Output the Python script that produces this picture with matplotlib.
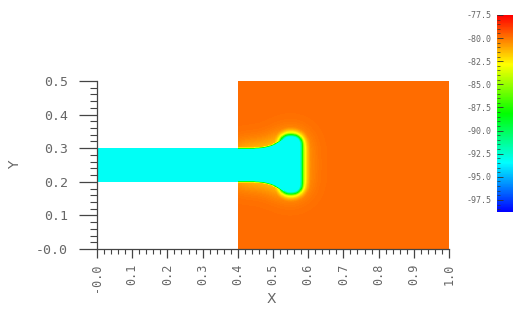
import numpy as np
import matplotlib
matplotlib.use("Agg")
import matplotlib.pyplot as plt
from matplotlib.colors import LinearSegmentedColormap
from matplotlib.ticker import FixedLocator, FixedFormatter, MultipleLocator

plt.rcParams['axes.unicode_minus'] = False

# values
tissue_value = -79.8      # orange background
channel_value = -93.3     # cyan inside the channel / head
vmin, vmax = -98.8, -77.5

# geometry (data units)
channel_x = [0.0, 0.4]
channel_y = [0.2, 0.3]
tissue_x = [0.4, 1.0]
tissue_y = [0.0, 0.5]
stem_x = [0.4, 0.535]
cap_x = [0.518, 0.584]
cap_y = [0.163, 0.341]
cap_radius = 0.028

x_ticks = [0.0, 0.1, 0.2, 0.3, 0.4, 0.5, 0.6, 0.7, 0.8, 0.9, 1.0]
x_labels = ['-0.0', '0.1', '0.2', '0.3', '0.4', '0.5', '0.6', '0.7', '0.8', '0.9', '1.0']
y_ticks = [0.0, 0.1, 0.2, 0.3, 0.4, 0.5]
y_labels = ['-0.0', '0.1', '0.2', '0.3', '0.4', '0.5']
cb_ticks = [-97.5, -95.0, -92.5, -90.0, -87.5, -85.0, -82.5, -80.0, -77.5]

# field on a fine grid
nx, ny = 1000, 500
xs = np.linspace(0, 1, nx)
ys = np.linspace(0, 0.5, ny)
X, Y = np.meshgrid(xs, ys)
dx = xs[1] - xs[0]


def blur(a, sigma):
    n = int(4 * sigma / dx) + 1
    k = np.exp(-0.5 * (np.arange(-n, n + 1) * dx / sigma) ** 2)
    k /= k.sum()
    out = np.apply_along_axis(lambda r: np.convolve(r, k, mode='same'), 1, a)
    out = np.apply_along_axis(lambda c: np.convolve(c, k, mode='same'), 0, out)
    return out


# stem, flaring towards the cap
t = np.clip((X - stem_x[0]) / (stem_x[1] - stem_x[0]), 0, 1)
half = 0.05 + 0.035 * t ** 4
stem = ((X >= stem_x[0] - 0.01) & (X <= stem_x[1]) & (np.abs(Y - 0.25) <= half)).astype(float)

# rounded cap
cx = np.clip(X, cap_x[0] + cap_radius, cap_x[1] - cap_radius)
cy = np.clip(Y, cap_y[0] + cap_radius, cap_y[1] - cap_radius)
cap = (np.hypot(X - cx, Y - cy) <= cap_radius).astype(float)

union = np.maximum(stem, cap)
a_stem = blur(stem, 0.0025)
a_cap = blur(cap, 0.0065)
a_rim = 0.75 * blur(cap, 0.014)
a_halo = 0.2 * blur(union, 0.03)
a = np.maximum.reduce([a_stem, a_cap, a_rim, a_halo])
a = np.clip(a * 1.15, 0, 1)

field = tissue_value + (channel_value - tissue_value) * a
in_channel = (X <= channel_x[1]) & (Y >= channel_y[0]) & (Y <= channel_y[1])
field[in_channel & (X < tissue_x[0])] = channel_value
field[(X < tissue_x[0]) & ~in_channel] = np.nan

cmap = LinearSegmentedColormap.from_list(
    'hot_visit', ['#0000ff', '#00ffff', '#00ff00', '#ffff00', '#ff0000'])
cmap.set_bad((1, 1, 1, 0))

fig = plt.figure(figsize=(5.13, 3.23), dpi=100)
ax = fig.add_axes([97 / 513, 74 / 323, 352 / 513, 168 / 323])
im = ax.imshow(np.ma.masked_invalid(field), origin='lower', extent=[0, 1, 0, 0.5],
               cmap=cmap, vmin=vmin, vmax=vmax, interpolation='nearest', aspect='auto')
ax.set_xlim(0, 1)
ax.set_ylim(0, 0.5)

for s in ['top', 'right']:
    ax.spines[s].set_visible(False)
for s in ['left', 'bottom']:
    ax.spines[s].set_color('#444444')
    ax.spines[s].set_linewidth(0.9)

gray = '#666666'
ax.xaxis.set_major_locator(FixedLocator(x_ticks))
ax.xaxis.set_major_formatter(FixedFormatter(x_labels))
ax.yaxis.set_major_locator(FixedLocator(y_ticks))
ax.yaxis.set_major_formatter(FixedFormatter(y_labels))
ax.xaxis.set_minor_locator(MultipleLocator(0.02))
ax.yaxis.set_minor_locator(MultipleLocator(0.02))
ax.tick_params(axis='y', which='major', length=13, width=0.9, color='#444444', pad=8,
               labelsize=9.5, labelcolor=gray)
ax.tick_params(axis='y', which='minor', length=5, width=0.8, color='#444444')
ax.tick_params(axis='x', which='major', length=6.5, width=0.9, color='#444444', pad=4,
               labelsize=8.5, labelcolor=gray, labelrotation=90)
ax.tick_params(axis='x', which='minor', length=3.5, width=0.8, color='#444444')
for lab in ax.get_xticklabels() + ax.get_yticklabels():
    lab.set_family('DejaVu Sans Mono')

ax.set_xlabel('X', color=gray, fontsize=10)
ax.set_ylabel('Y', color=gray, fontsize=10)
ax.xaxis.set_label_coords(0.494, -0.3)
ax.xaxis.label.set_va('center')
ax.yaxis.set_label_coords(-0.233, 0.5)
ax.yaxis.label.set_va('center')

cax = fig.add_axes([497 / 513, 111 / 323, 0.05, 197 / 323])
cb = fig.colorbar(im, cax=cax)
cb.outline.set_visible(False)
cax.yaxis.set_ticks_position('left')
cax.yaxis.set_label_position('left')
cb.set_ticks(cb_ticks)
cb.set_ticklabels(['%.1f' % v for v in cb_ticks])
cax.yaxis.set_minor_locator(MultipleLocator(0.5))
cax.tick_params(which='major', direction='in', length=4, width=0.6, color='#333333',
                labelsize=6, labelcolor=gray, pad=4)
cax.tick_params(which='minor', direction='in', length=2, width=0.5, color='#333333')
for lab in cax.get_yticklabels():
    lab.set_family('DejaVu Sans Mono')

fig.savefig('out.png', dpi=100)
